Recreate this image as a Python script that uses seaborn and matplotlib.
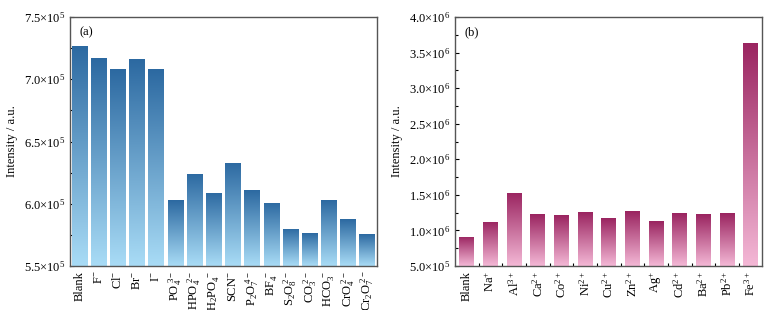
import numpy as np
import pandas as pd
import matplotlib
matplotlib.use("Agg")
import matplotlib.pyplot as plt
import seaborn as sns
from matplotlib.colors import LinearSegmentedColormap
from matplotlib.ticker import MultipleLocator, FixedLocator, FuncFormatter

# %% data
anion_labels = ["Blank", r"$\mathrm{F^{-}}$", r"$\mathrm{Cl^{-}}$", r"$\mathrm{Br^{-}}$", r"$\mathrm{I^{-}}$",
                r"$\mathrm{PO_4^{\ 3-}}$", r"$\mathrm{HPO_4^{\ 2-}}$", r"$\mathrm{H_2PO_4^{\ -}}$",
                r"$\mathrm{SCN^{-}}$", r"$\mathrm{P_2O_7^{\ 4-}}$", r"$\mathrm{BF_4^{\ -}}$",
                r"$\mathrm{S_2O_8^{\ 2-}}$", r"$\mathrm{CO_3^{\ 2-}}$", r"$\mathrm{HCO_3^{\ -}}$",
                r"$\mathrm{CrO_4^{\ 2-}}$", r"$\mathrm{Cr_2O_7^{\ 2-}}$"]
anion_values = [7.27e5, 7.17e5, 7.08e5, 7.16e5, 7.08e5, 6.03e5, 6.24e5, 6.09e5,
                6.33e5, 6.11e5, 6.01e5, 5.80e5, 5.765e5, 6.03e5, 5.875e5, 5.757e5]

cation_labels = ["Blank", r"$\mathrm{Na^{+}}$", r"$\mathrm{Al^{3+}}$", r"$\mathrm{Ca^{2+}}$",
                 r"$\mathrm{Co^{2+}}$", r"$\mathrm{Ni^{2+}}$", r"$\mathrm{Cu^{2+}}$", r"$\mathrm{Zn^{2+}}$",
                 r"$\mathrm{Ag^{+}}$", r"$\mathrm{Cd^{2+}}$", r"$\mathrm{Ba^{2+}}$", r"$\mathrm{Pb^{2+}}$",
                 r"$\mathrm{Fe^{3+}}$"]
cation_values = [0.909e6, 1.12e6, 1.53e6, 1.23e6, 1.215e6, 1.252e6, 1.168e6,
                 1.272e6, 1.13e6, 1.244e6, 1.23e6, 1.244e6, 3.64e6]

# %% style
sns.set_style("ticks")
plt.rcParams["font.family"] = ["Liberation Serif", "DejaVu Serif"]
plt.rcParams["mathtext.fontset"] = "custom"
plt.rcParams["mathtext.rm"] = "Liberation Serif"
plt.rcParams["mathtext.it"] = "Liberation Serif:italic"
plt.rcParams["font.size"] = 9
plt.rcParams["text.color"] = "black"
plt.rcParams["axes.labelcolor"] = "black"
plt.rcParams["xtick.color"] = "black"
plt.rcParams["ytick.color"] = "black"

blue_cmap = LinearSegmentedColormap.from_list("blues", ["#a9dcf6", "#2c69a1"])
pink_cmap = LinearSegmentedColormap.from_list("pinks", ["#f4b8d6", "#9a2460"])


def sci_fmt(v, pos):
    if v <= 0:
        return ""
    exp = int(np.floor(np.log10(v) + 1e-9))
    mant = v / 10 ** exp
    return r"$%.1f{\times}10^{%d}$" % (mant, exp)


def gradient_bars(ax, labels, values, width, cmap, ylim):
    df = pd.DataFrame({"ion": labels, "val": values})
    sns.barplot(data=df, x="ion", y="val", ax=ax, width=width, color="white",
                edgecolor="none", zorder=1)
    grad = np.linspace(0, 1, 256).reshape(-1, 1)
    for bar in list(ax.patches):
        x0 = bar.get_x()
        w = bar.get_width()
        top = bar.get_height()
        im = ax.imshow(grad, extent=[x0, x0 + w, ylim[0], top], origin="lower",
                       aspect="auto", cmap=cmap, zorder=2)
        im.set_clip_path(bar)
    ax.set_ylim(*ylim)
    ax.set_xlim(-0.5, len(values) - 0.5)
    ax.set_xlabel("")
    ax.set_ylabel("Intensity / a.u.", fontsize=9)
    ax.yaxis.set_major_formatter(FuncFormatter(sci_fmt))
    ax.tick_params(axis="x", labelrotation=90, direction="in", length=3, width=0.8, labelsize=9)
    ax.tick_params(axis="y", which="both", direction="in", width=0.8, labelsize=9)
    ax.tick_params(axis="y", which="major", length=3)
    ax.tick_params(axis="y", which="minor", length=2)
    for s in ax.spines.values():
        s.set_color("#555555")
        s.set_linewidth(1.0)
        s.set_visible(True)


fig = plt.figure(figsize=(7.82, 3.10), dpi=100)
ax1 = fig.add_axes([0.0895, 0.142, 0.3925, 0.803])
ax2 = fig.add_axes([0.582, 0.142, 0.393, 0.803])

gradient_bars(ax1, anion_labels, anion_values, 0.82, blue_cmap, (5.5e5, 7.5e5))
ax1.yaxis.set_major_locator(MultipleLocator(0.5e5))
ax1.yaxis.set_minor_locator(MultipleLocator(0.25e5))
ax1.text(0.03, 0.94, "(a)", transform=ax1.transAxes, fontsize=9, va="center")

gradient_bars(ax2, cation_labels, cation_values, 0.63, pink_cmap, (5e5, 4e6))
ax2.yaxis.set_major_locator(MultipleLocator(0.5e6))
ax2.yaxis.set_minor_locator(MultipleLocator(0.25e6))
ax2.xaxis.set_minor_locator(FixedLocator(np.arange(0.5, len(cation_values) - 1, 1.0)))
ax2.tick_params(axis="x", which="minor", direction="in", length=2, width=0.8)
ax2.text(0.03, 0.94, "(b)", transform=ax2.transAxes, fontsize=9, va="center")

plt.savefig("out.png", dpi=100)
